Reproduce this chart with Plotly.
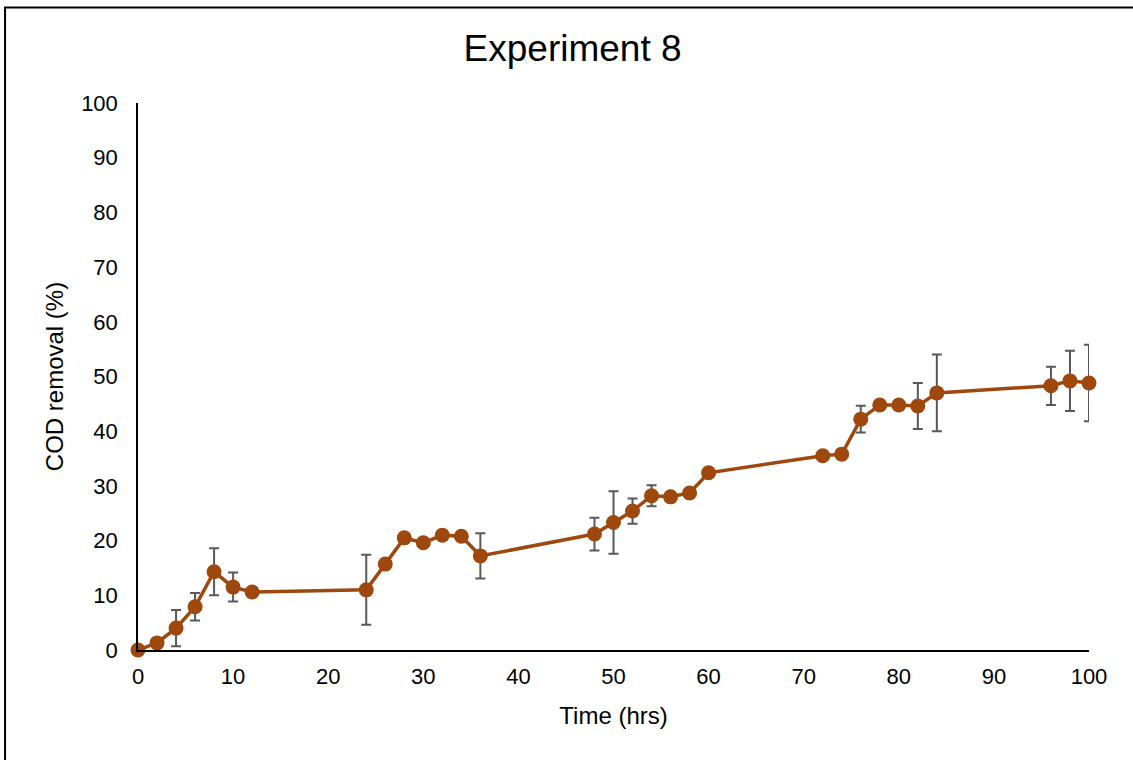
import plotly.graph_objects as go

# Sampling times (hrs)
time_hrs = [0, 2, 4, 6, 8, 10, 12, 24, 26, 28, 30, 32, 34, 36,
            48, 50, 52, 54, 56, 58, 60, 72, 74, 76, 78, 80, 82, 84,
            96, 98, 100]
# Mean COD removal (%)
cod_removal = [0.0, 1.3, 4.0, 7.9, 14.3, 11.5, 10.6, 11.0, 15.7, 20.5, 19.6, 21.0, 20.8, 17.2,
               21.2, 23.3, 25.4, 28.2, 28.0, 28.7, 32.4, 35.5, 35.8, 42.2, 44.8, 44.8, 44.6, 47.0,
               48.3, 49.2, 48.8]
# Standard deviation (%)
cod_sd = [0.0, 0.0, 3.3, 2.5, 4.3, 2.65, 0.0, 6.4, 0.0, 0.0, 0.0, 0.0, 0.0, 4.15,
          3.0, 5.7, 2.3, 1.9, 0.0, 0.0, 0.0, 0.0, 0.0, 2.45, 0.0, 0.0, 4.2, 7.0,
          3.5, 5.5, 7.0]

x_ticks = [0, 10, 20, 30, 40, 50, 60, 70, 80, 90, 100]
y_ticks = [0, 10, 20, 30, 40, 50, 60, 70, 80, 90, 100]

FONT = "Liberation Sans, Arial, sans-serif"
BROWN = "#9E480E"

fig = go.Figure()
fig.add_trace(go.Scatter(
    x=time_hrs, y=cod_removal,
    mode="lines+markers",
    line=dict(color=BROWN, width=3.5),
    marker=dict(color=BROWN, size=15),
    error_y=dict(type="data", array=cod_sd, visible=True,
                 color="#595959", thickness=2, width=5),
    cliponaxis=False,
    showlegend=False,
))

# outer chart frame
fig.add_shape(type="rect", xref="paper", yref="paper",
              x0=-0.1398, x1=1.06, y0=-0.25, y1=1.1746,
              line=dict(color="black", width=2), fillcolor="rgba(0,0,0,0)",
              layer="below")

fig.update_layout(
    width=1133, height=760,
    margin=dict(l=138, r=44, t=103, b=110),
    paper_bgcolor="white", plot_bgcolor="white",
    font=dict(family=FONT, color="black"),
    title=dict(text="Experiment 8", x=0.457, xref="paper", xanchor="center",
               y=0.937, yanchor="middle",
               font=dict(size=37, color="black", family=FONT)),
    xaxis=dict(range=[0, 100], tickvals=x_ticks, showgrid=False, zeroline=False,
               showline=True, linecolor="black", linewidth=1.5, ticks="",
               tickfont=dict(size=22), ticklabelstandoff=6,
               title=dict(text="Time (hrs)", font=dict(size=24), standoff=19)),
    yaxis=dict(range=[0, 100], tickvals=y_ticks, showgrid=False, zeroline=False,
               showline=True, linecolor="black", linewidth=1.5, ticks="",
               tickfont=dict(size=22), ticklabelstandoff=14,
               title=dict(text="COD removal (%)", font=dict(size=24), standoff=11)),
)

fig.write_html("out.html")
